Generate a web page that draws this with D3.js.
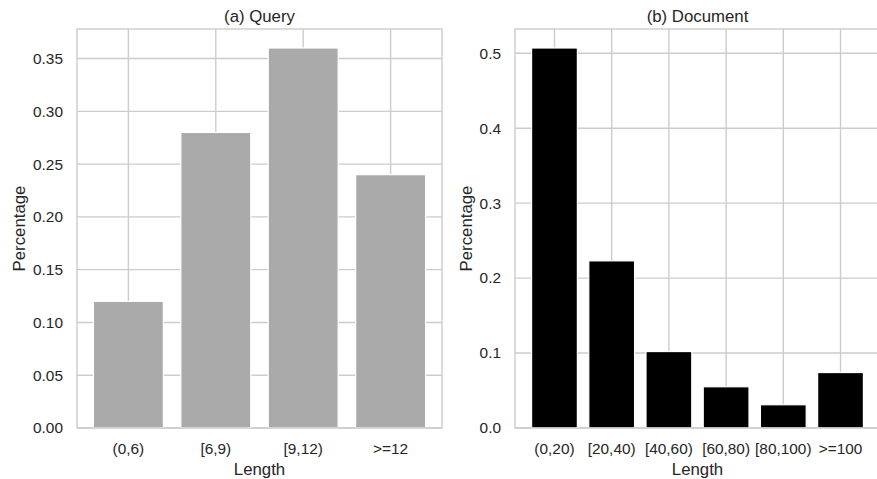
<!DOCTYPE html>
<html><head><meta charset="utf-8">
<script src="https://cdn.jsdelivr.net/npm/d3@7"></script>
<style>
html,body{margin:0;padding:0;background:#fff;}
svg text{font-family:"Liberation Sans",Arial,sans-serif;fill:#262626;}
</style></head>
<body><svg id="chart" width="877" height="479"></svg>
<script>
const queryCategories = ["(0,6)", "[6,9)", "[9,12)", ">=12"];
const queryValues = [0.12, 0.28, 0.36, 0.24];
const queryTicks = [0.00, 0.05, 0.10, 0.15, 0.20, 0.25, 0.30, 0.35];

const docCategories = ["(0,20)", "[20,40)", "[40,60)", "[60,80)", "[80,100)", ">=100"];
const docValues = [0.507, 0.223, 0.102, 0.055, 0.031, 0.074];
const docTicks = [0.0, 0.1, 0.2, 0.3, 0.4, 0.5];

const svg = d3.select("#chart");
const plotTop = 29, plotBottom = 428;

function panel(opts) {
  const g = svg.append("g");
  const x = d3.scaleBand().domain(opts.cats).range([opts.left, opts.right])
    .paddingInner(0.2).paddingOuter(opts.po);
  const y = d3.scaleLinear().domain([0, d3.max(opts.vals) * 1.05]).range([plotBottom, plotTop]);
  g.append("g").selectAll("line").data(opts.ticks).join("line")
    .attr("x1", opts.left).attr("x2", opts.right)
    .attr("y1", d => y(d)).attr("y2", d => y(d))
    .attr("stroke", "#cccccc").attr("stroke-width", 1.4);
  g.append("g").selectAll("line").data(opts.cats).join("line")
    .attr("x1", d => x(d) + x.bandwidth() / 2).attr("x2", d => x(d) + x.bandwidth() / 2)
    .attr("y1", plotTop).attr("y2", plotBottom)
    .attr("stroke", "#cccccc").attr("stroke-width", 1.4);
  g.append("g").selectAll("rect").data(opts.vals).join("rect")
    .attr("x", (d, i) => x(opts.cats[i]))
    .attr("width", x.bandwidth())
    .attr("y", d => y(d))
    .attr("height", d => y(0) - y(d))
    .attr("fill", opts.color)
    .attr("stroke", "#ffffff").attr("stroke-width", 1.2);
  g.append("rect").attr("x", opts.left).attr("y", plotTop)
    .attr("width", opts.right - opts.left).attr("height", plotBottom - plotTop)
    .attr("fill", "none").attr("stroke", "#cccccc").attr("stroke-width", 1.4);
  g.append("g").selectAll("text").data(opts.ticks).join("text")
    .attr("x", opts.left - 14).attr("y", d => y(d)).attr("dy", "0.35em")
    .attr("text-anchor", "end").attr("font-size", 15.4)
    .text(d => d3.format(opts.fmt)(d));
  g.append("g").selectAll("text").data(opts.cats).join("text")
    .attr("x", d => x(d) + x.bandwidth() / 2).attr("y", 449).attr("dy", "0.35em")
    .attr("text-anchor", "middle").attr("font-size", 15.4)
    .text(d => d);
  const cx = (opts.left + opts.right) / 2;
  g.append("text").attr("x", opts.axisLabelCx).attr("y", 469).attr("dy", "0.35em")
    .attr("text-anchor", "middle").attr("font-size", 16.8).text("Length");
  g.append("text")
    .attr("transform", `translate(${opts.ylabX},${(plotTop + plotBottom) / 2}) rotate(-90)`)
    .attr("dy", "0.35em").attr("text-anchor", "middle").attr("font-size", 16.8)
    .text("Percentage");
  g.append("text").attr("x", cx).attr("y", 16).attr("dy", "0.35em")
    .attr("text-anchor", "middle").attr("font-size", 16.8).text(opts.title);
}

panel({cats: queryCategories, vals: queryValues, ticks: queryTicks, fmt: ".2f",
  left: 77, right: 442, po: 0.188, color: "#aaaaaa", title: "(a) Query",
  ylabX: 19, axisLabelCx: 259.5});
panel({cats: docCategories, vals: docValues, ticks: docTicks, fmt: ".1f",
  left: 515, right: 880, po: 0.29, color: "#000000", title: "(b) Document",
  ylabX: 466, axisLabelCx: 697.5});
</script></body></html>
